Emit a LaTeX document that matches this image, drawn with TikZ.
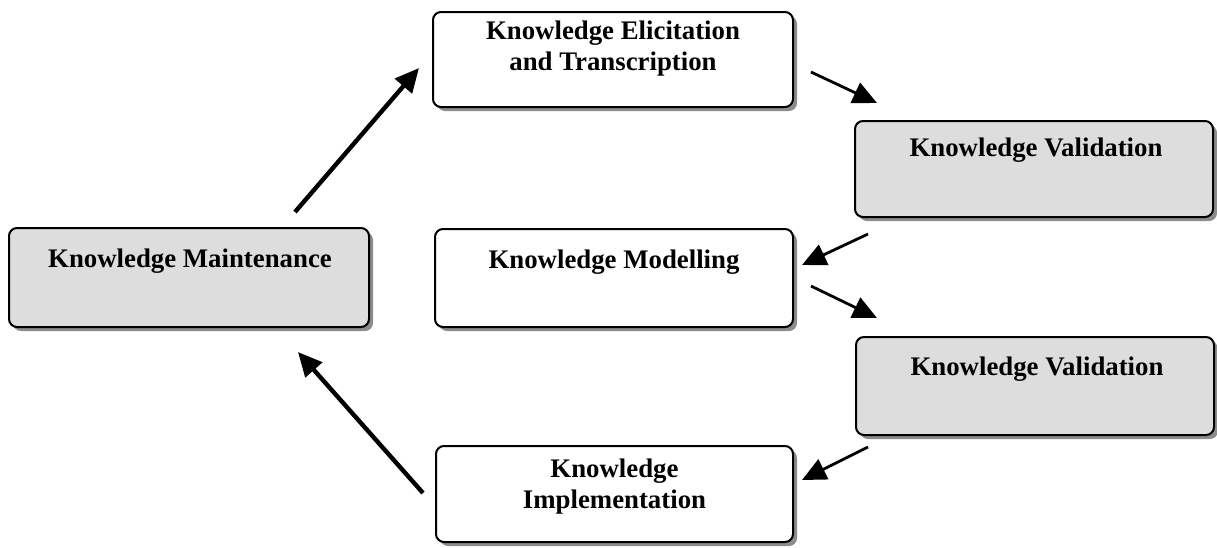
\documentclass[tikz,border=0pt]{standalone}
\usepackage{fontspec}
\setmainfont{Liberation Serif}
\usetikzlibrary{arrows.meta,shadows}
\definecolor{boxgray}{HTML}{DDDDDD}
\tikzset{
  kbox/.style={draw=black, line width=1pt, rounded corners=4pt, inner sep=0pt,
    drop shadow={shadow xshift=2pt, shadow yshift=-2pt, fill=black!45, opacity=1}},
  graybox/.style={kbox, fill=boxgray},
  whitebox/.style={kbox, fill=white},
  ktext/.style={font=\fontsize{13.4}{15.5}\selectfont\bfseries, align=center, inner sep=0pt},
  thinarrow/.style={line width=1.4pt, -{Triangle[length=12pt,width=11pt]}},
  thickarrow/.style={line width=2.2pt, -{Triangle[length=12pt,width=11pt]}}
}
\begin{document}
\begin{tikzpicture}[x=0.5pt,y=-0.5pt]
\useasboundingbox (0,0) rectangle (1217,547);
% boxes
\node[whitebox, minimum width=180pt, minimum height=47.5pt] (elic) at (613,59.5) {};
\node[graybox, minimum width=179pt, minimum height=48pt] (val1) at (1034,169) {};
\node[graybox, minimum width=180pt, minimum height=49.5pt] (maint) at (189,277.5) {};
\node[whitebox, minimum width=179pt, minimum height=49pt] (model) at (614,278) {};
\node[graybox, minimum width=179pt, minimum height=49pt] (val2) at (1035,386) {};
\node[whitebox, minimum width=178.5pt, minimum height=48pt] (impl) at (614.5,494) {};
% texts
\node[ktext] (elict) at (613,49) {Knowledge Elicitation\\and Transcription};
\node[ktext] (val1t) at (1036,150) {Knowledge Validation};
\node[ktext] (maintt) at (190,261) {Knowledge Maintenance};
\node[ktext] (modelt) at (614,262) {Knowledge Modelling};
\node[ktext] (val2t) at (1037,369) {Knowledge Validation};
\node[ktext] (implt) at (614.5,487) {Knowledge\\Implementation};
% arrow end points
\coordinate (a1s) at (295,212); \coordinate (a1e) at (419,68);
\coordinate (a2s) at (811,72);  \coordinate (a2e) at (877,103);
\coordinate (a3s) at (868,234); \coordinate (a3e) at (802,265);
\coordinate (a4s) at (811,286); \coordinate (a4e) at (877,318);
\coordinate (a5s) at (868,447); \coordinate (a5e) at (802,480);
\coordinate (a6s) at (423,493); \coordinate (a6e) at (298,352);
% arrows
\draw[thickarrow] (a1s) -- (a1e);
\draw[thinarrow] (a2s) -- (a2e);
\draw[thinarrow] (a3s) -- (a3e);
\draw[thinarrow] (a4s) -- (a4e);
\draw[thinarrow] (a5s) -- (a5e);
\draw[thickarrow] (a6s) -- (a6e);
\end{tikzpicture}
\end{document}
